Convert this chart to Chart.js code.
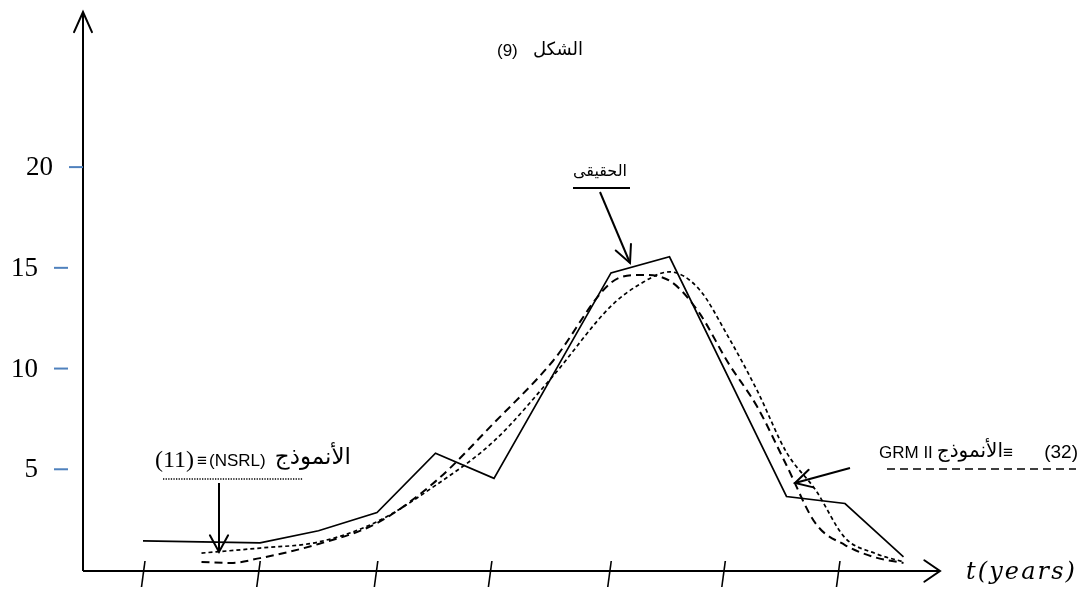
<!DOCTYPE html>
<html><head><meta charset="utf-8">
<script src="https://cdn.jsdelivr.net/npm/chart.js@4"></script>
<style>html,body{margin:0;padding:0;background:#fff}#wrap{width:1084px;height:589px;position:relative}</style>
</head><body><div id="wrap"><canvas id="c"></canvas></div>
<script>
// ---- data ----
const actualX = [0, 2, 3, 4, 5, 6, 8, 9, 11, 12, 13];
const actualY = [1.45, 1.35, 1.95, 2.85, 5.8, 4.55, 14.75, 15.55, 3.65, 3.3, 0.65];

const nsrlX = [1, 2, 3, 4, 5, 6, 7, 8, 8.5, 9, 9.5, 10, 10.5, 11, 11.5, 12, 12.5, 13];
const nsrlY = [0.84, 1.09, 1.39, 2.4, 4.2, 6.4, 9.6, 13.1, 14.2, 14.8, 13.96, 11.6, 8.9, 5.84, 3.96, 1.6, 0.84, 0.4];

const grmX = [1, 1.5, 2, 3, 4, 5, 6, 7, 8, 8.5, 9, 9.5, 10, 10.5, 11, 11.5, 12, 12.5, 13];
const grmY = [0.4, 0.35, 0.59, 1.29, 2.33, 4.4, 7.3, 10.35, 14.26, 14.65, 14.36, 12.8, 10.3, 8.1, 5.2, 2.3, 1.24, 0.64, 0.35];

const yTickValues = [5, 10, 15, 20];
const yTickLabels = ['5', '10', '15', '20'];
const xTickValues = [0, 1.97, 3.98, 5.93, 7.97, 9.92, 11.88];

const titleText = ['(9)', 'الشكل'];
const actualLabel = 'الحقيقى';
const nsrlLabel = ['(11)', '≡', '(NSRL)', 'الأنموذج'];
const grmLabel = ['GRM II', 'الأنموذج', '≡', '(32)'];
const xAxisLabel = 't(years)';

// ---- helpers ----
const zip = (xs, ys) => xs.map((x, i) => ({x: x, y: ys[i]}));
const SANS = "'Liberation Sans','DejaVu Sans',sans-serif";
const SERIF = "'Liberation Serif','DejaVu Serif',serif";

function line(ctx, x1, y1, x2, y2, w, dash) {
  ctx.save(); ctx.beginPath(); ctx.lineWidth = w || 2; ctx.strokeStyle = '#000';
  ctx.setLineDash(dash || []); ctx.moveTo(x1, y1); ctx.lineTo(x2, y2); ctx.stroke(); ctx.restore();
}
function arrow(ctx, x1, y1, x2, y2, len, ang, w) {
  line(ctx, x1, y1, x2, y2, w);
  const a = Math.atan2(y2 - y1, x2 - x1);
  ctx.save(); ctx.beginPath(); ctx.lineWidth = w || 2; ctx.strokeStyle = '#000'; ctx.lineCap = 'round';
  ctx.moveTo(x2 - len * Math.cos(a - ang), y2 - len * Math.sin(a - ang));
  ctx.lineTo(x2, y2);
  ctx.lineTo(x2 - len * Math.cos(a + ang), y2 - len * Math.sin(a + ang));
  ctx.stroke(); ctx.restore();
}
function text(ctx, s, x, y, font, align) {
  ctx.save(); ctx.font = font; ctx.fillStyle = '#000'; ctx.textAlign = align || 'left';
  ctx.textBaseline = 'middle'; ctx.direction = 'ltr'; ctx.fillText(s, x, y); ctx.restore();
}

const decor = {
  id: 'decor',
  afterDraw(chart) {
    const ctx = chart.ctx, xs = chart.scales.x, ys = chart.scales.y;
    const x0 = xs.getPixelForValue(xs.min), y0 = ys.getPixelForValue(0);
    const yTop = ys.getPixelForValue(ys.max), xEnd = xs.getPixelForValue(xs.max);
    // axes
    line(ctx, x0, y0 + 1, x0, yTop, 2);
    arrow(ctx, x0, yTop + 20, x0, yTop, 22, 0.42, 2);
    line(ctx, x0, y0 + 1, xEnd, y0 + 1, 2);
    arrow(ctx, xEnd - 20, y0 + 1, xEnd, y0 + 1, 19, 0.6, 2);
    // x tick marks (slanted)
    xTickValues.forEach(v => {
      const px = xs.getPixelForValue(v);
      line(ctx, px + 2, y0 - 9, px - 1.5, y0 + 17, 1.6);
    });
    // y ticks (blue dashes) + labels
    const shift = [0, 0, 0, 15];
    yTickValues.forEach((v, i) => {
      const py = ys.getPixelForValue(v);
      ctx.save(); ctx.strokeStyle = '#4f81bd'; ctx.lineWidth = 2;
      ctx.beginPath(); ctx.moveTo(54 + shift[i], py); ctx.lineTo(68 + shift[i], py); ctx.stroke(); ctx.restore();
      text(ctx, yTickLabels[i], 38 + shift[i], py + 1, '27px ' + SERIF, 'right');
    });
    // x axis label
    ctx.save(); ctx.font = "italic 24px 'DejaVu Serif',serif"; ctx.letterSpacing = '0px';
    const w = ctx.measureText(xAxisLabel).width;
    ctx.letterSpacing = Math.max(0, (111 - w) / xAxisLabel.length) + 'px';
    ctx.fillStyle = '#000'; ctx.textBaseline = 'middle'; ctx.textAlign = 'left';
    ctx.fillText(xAxisLabel, 966, 573); ctx.restore();
    // title
    text(ctx, titleText[0], 497, 51, '17px ' + SANS);
    text(ctx, titleText[1], 583, 50, '18px ' + SANS, 'right');
    // actual label + arrow
    text(ctx, actualLabel, 600, 172, '16px ' + SANS, 'center');
    line(ctx, 573, 188, 630, 188, 2);
    arrow(ctx, 600, 192, 630, 263, 19, 0.45, 2);
    // NSRL label
    text(ctx, nsrlLabel[0], 155, 461, '24px ' + SERIF);
    text(ctx, nsrlLabel[1], 197, 461, '17px ' + SANS);
    text(ctx, nsrlLabel[2], 209, 461, '17px ' + SANS);
    text(ctx, nsrlLabel[3], 351, 458, '23px ' + SANS, 'right');
    line(ctx, 163, 479, 303, 479, 1.3, [1.3, 1.3]);
    arrow(ctx, 219, 483, 219, 552, 19, 0.5, 2);
    // GRM II label
    text(ctx, grmLabel[0], 879, 453, '17px ' + SANS);
    text(ctx, grmLabel[1], 1003, 451, '20px ' + SANS, 'right');
    text(ctx, grmLabel[2], 1003, 453, '17px ' + SANS);
    text(ctx, grmLabel[3], 1078, 453, '19px ' + SANS, 'right');
    line(ctx, 887, 469, 1076, 469, 1.6, [8, 5]);
    arrow(ctx, 850, 468, 795, 483, 19, 0.5, 2);
  }
};

new Chart(document.getElementById('c'), {
  type: 'line',
  data: {
    datasets: [
      {label: 'actual', data: zip(actualX, actualY), borderColor: '#000', borderWidth: 1.7, tension: 0, pointRadius: 0, fill: false},
      {label: 'NSRL', data: zip(nsrlX, nsrlY), borderColor: '#000', borderWidth: 1.7, borderDash: [4, 3], cubicInterpolationMode: 'monotone', pointRadius: 0, fill: false},
      {label: 'GRM II', data: zip(grmX, grmY), borderColor: '#000', borderWidth: 2, borderDash: [8, 5], cubicInterpolationMode: 'monotone', pointRadius: 0, fill: false}
    ]
  },
  options: {
    responsive: true, maintainAspectRatio: false, animation: false,
    layout: {padding: {left: 83, right: 144, top: 12, bottom: 19}},
    scales: {
      x: {type: 'linear', min: -1.0256, max: 13.624, display: false},
      y: {type: 'linear', min: 0, max: 27.7, display: false}
    },
    plugins: {legend: {display: false}, tooltip: {enabled: false}, title: {display: false}},
    events: []
  },
  plugins: [decor]
});
</script>
</body></html>
